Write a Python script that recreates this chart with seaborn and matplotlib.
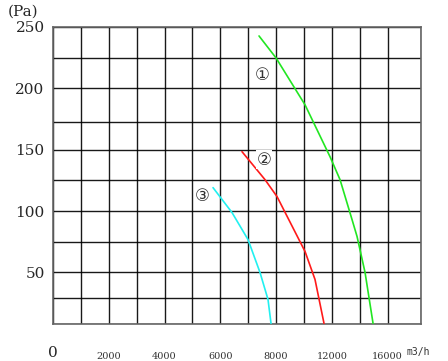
import numpy as np
import pandas as pd
from matplotlib import pyplot as plt
import seaborn as sns

#### Data (x in m3/h on the drawn scale, y in Pa)

curve1_x = [7390, 8000, 9040, 9937, 10296, 10726, 10906, 11193, 11480]
curve1_y = [242.7, 224.8, 186.6, 144.3, 125.6, 93.1, 79.3, 50.0, 8.5]

curve2_x = [6780, 7605, 8036, 9040, 9398, 9721]
curve2_y = [148.4, 125.6, 111.8, 67.1, 44.3, 8.5]

curve3_x = [5740, 6421, 6995, 7425, 7712, 7820]
curve3_y = [119.1, 98.8, 76.8, 50.0, 28.0, 8.5]

grid_x = [0, 1000, 2000, 3000, 4000, 5000, 6000, 7000, 8000, 9000, 10000, 11000, 12000, 13200]
grid_y = [8, 29, 50, 75, 100, 125, 150, 173, 200, 225, 250]

xtick_pos = [2000, 4000, 6000, 8000, 10000, 12000]
xtick_labels = ['2000', '4000', '6000', '8000', '12000', '16000']
ytick_pos = [50, 100, 150, 200, 250]
ytick_labels = ['50', '100', '150', '200', '250']

curve_names = ['①', '②', '③']
curve_colors = ['#22e622', '#ff1a1a', '#22f0f0']

rows = []
for name, xs, ys in zip(curve_names, [curve1_x, curve2_x, curve3_x], [curve1_y, curve2_y, curve3_y]):
    for i, (a, b) in enumerate(zip(xs, ys)):
        rows.append({'curve': name, 'order': i, 'flow': a, 'pressure': b})
df = pd.DataFrame(rows)

##### Plot

sns.set_style('white')
plt.rcParams['font.family'] = ['DejaVu Serif', 'Noto Sans CJK SC']

fig = plt.figure(figsize=(4.48, 3.61), dpi=100)
ax = fig.add_axes([53 / 448, 37 / 361, 368 / 448, 297 / 361])

# grid drawn as plain lines so every one shows
for gx in grid_x:
    ax.axvline(gx, color='black', linewidth=1.0, alpha=0.9, zorder=1)
for gy in grid_y:
    ax.axhline(gy, color='black', linewidth=1.0, alpha=0.9, zorder=1)

sns.lineplot(data=df, x='flow', y='pressure', hue='curve', palette=curve_colors,
             sort=False, estimator=None, linewidth=1.2, legend=False, ax=ax, zorder=3)

ax.set_xlim(grid_x[0], grid_x[-1])
ax.set_ylim(grid_y[0], grid_y[-1])
ax.grid(False)

ax.set_xticks(xtick_pos)
ax.set_xticklabels(xtick_labels, fontsize=7, color='#333333')
ax.set_yticks(ytick_pos)
ax.set_yticklabels(ytick_labels, fontsize=11)
ax.tick_params(axis='x', length=0, pad=20)
ax.tick_params(axis='y', length=0, pad=6)

for s in ax.spines.values():
    s.set_color('#666666')
    s.set_linewidth(1.2)

ax.set_xlabel('')
ax.set_ylabel('')

# circled curve numbers
label_pos = [(7500, 211), (7570, 142), (5345, 112)]
for name, (lx, ly) in zip(curve_names, label_pos):
    ax.text(lx, ly, name, fontsize=12, ha='center', va='center', zorder=4,
            family=['DejaVu Sans', 'Noto Sans CJK SC'], color='#333333',
            bbox=dict(facecolor='white', edgecolor='none', pad=0.3))

fig.text(8 / 448, 1 - 12 / 361, '(Pa)', fontsize=11, ha='left', va='center')
fig.text(53 / 448, 1 - 353 / 361, '0', fontsize=11, ha='center', va='center')
fig.text(418 / 448, 1 - 352 / 361, 'm3/h', fontsize=7, ha='center', va='center',
         family='DejaVu Sans Mono', color='#333333')

plt.savefig('out.png', dpi=100)
